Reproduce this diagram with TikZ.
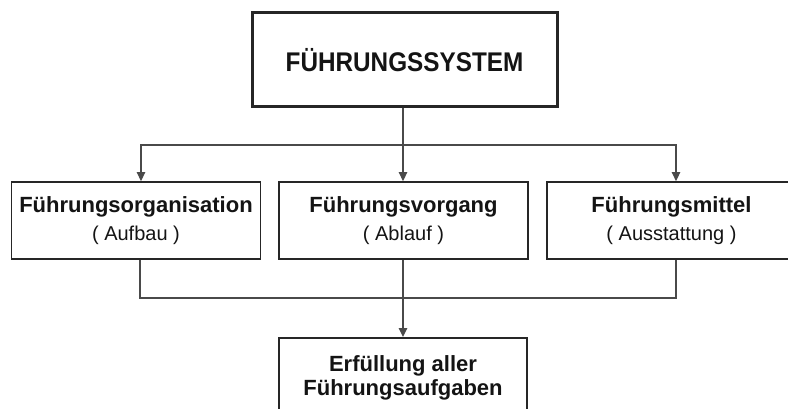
\documentclass[tikz,border=0pt]{standalone}
\usepackage{fontspec}
\setmainfont{Liberation Sans}
\usetikzlibrary{arrows.meta}
\definecolor{boxline}{HTML}{262626}
\definecolor{conline}{HTML}{4A4A4A}
\definecolor{inktext}{HTML}{141414}
\newcommand{\sublabel}[1]{{\fontsize{20}{24}\selectfont\mdseries #1}}
\begin{document}
\begin{tikzpicture}[x=1pt,y=-1pt,
  box/.style={draw=boxline,line width=1.8pt,fill=white,rectangle,inner sep=0pt,
    minimum width=249pt,minimum height=77pt,align=center,text=inktext,
    font=\fontsize{22}{24}\selectfont\bfseries},
  headbox/.style={draw=boxline,line width=3pt,fill=white,rectangle,inner sep=0pt,
    minimum width=305pt,minimum height=94pt,align=center,text=inktext,
    font=\fontsize{27}{30}\selectfont\bfseries},
  con/.style={draw=conline,line width=1.3pt},
  arr/.style={con,-{Triangle[length=9pt,width=8.5pt]}}]
\clip (0,0) rectangle (788,409);
\fill[white] (0,0) rectangle (788,409);

\node[headbox] (top) at (404.5,60) {\scalebox{0.9}[1]{FÜHRUNGSSYSTEM}};

\node[box] (b1) at (136,220.5) {Führungsorganisation\\[4pt]\sublabel{( Aufbau )}};
\node[box] (b2) at (403.5,220.5) {Führungsvorgang\\[4pt]\sublabel{( Ablauf )}};
\node[box] (b3) at (671.5,220.5) {Führungsmittel\\[4pt]\sublabel{( Ausstattung )}};

\node[box,minimum width=248pt,minimum height=80pt,anchor=north] (goal) at (403,337)
  {Erfüllung aller\\Führungsaufgaben};

\coordinate (split) at (403,145);
\coordinate (join) at (403,298);

\draw[arr] (top.south -| split) -- (split) -- (b2.north -| split);
\draw[arr] (split) -| ([xshift=5pt]b1.north);
\draw[arr] (split) -| ([xshift=4.5pt]b3.north);

\draw[con] ([xshift=4pt]b1.south) |- (join);
\draw[con] ([xshift=4.5pt]b3.south) |- (join);
\draw[arr] (b2.south -| join) -- (goal.north -| join);
\end{tikzpicture}
\end{document}
